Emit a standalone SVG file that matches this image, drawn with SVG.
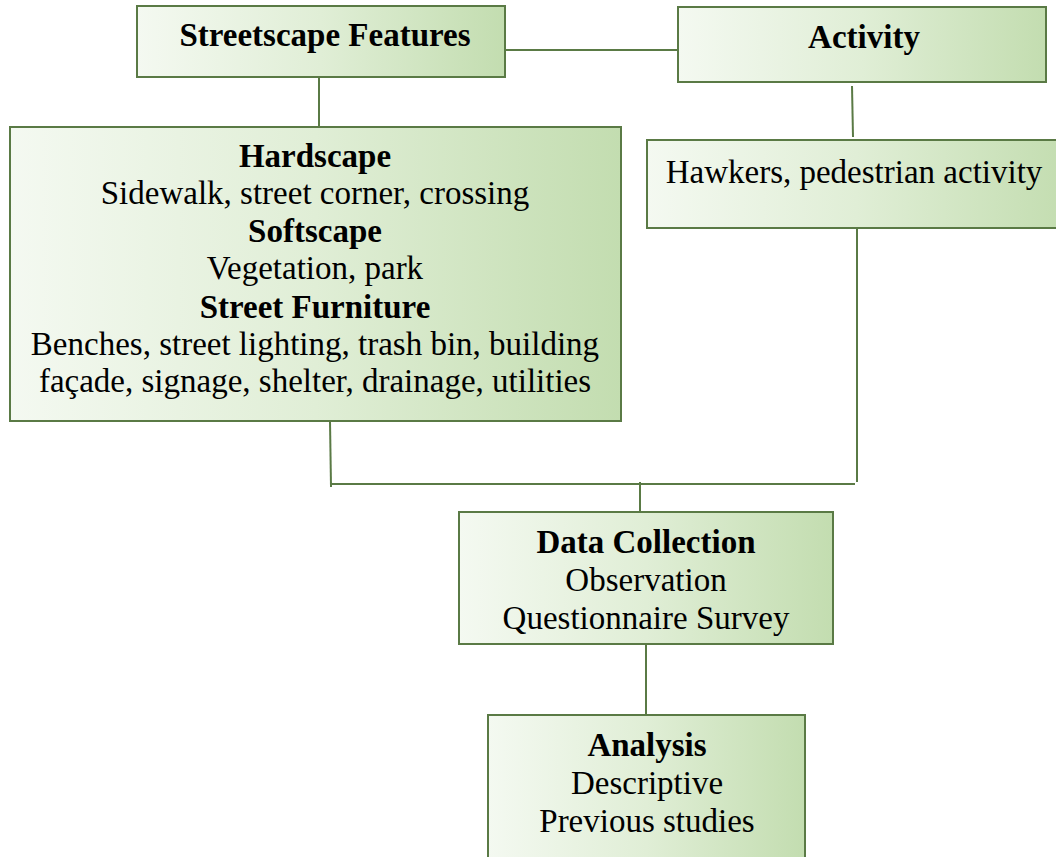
<svg xmlns="http://www.w3.org/2000/svg" width="1056" height="857" viewBox="0 0 1056 857">
<defs>
<linearGradient id="g" x1="0" y1="0" x2="1" y2="0">
<stop offset="0" stop-color="#f4f9f1"/>
<stop offset="0.5" stop-color="#e0eed6"/>
<stop offset="1" stop-color="#c3ddb0"/>
</linearGradient>
</defs>
<style>
rect{fill:url(#g);stroke:#5a7a45;stroke-width:2}
.c line{stroke:#5a7a45;stroke-width:2}
text{font-family:"Liberation Serif","Times New Roman",serif;font-size:33px;fill:#000;text-anchor:middle}
.b{font-weight:bold}
</style>
<rect width="1056" height="857" style="fill:#fff;stroke:none"/>
<g class="c" id="connectors">
<line x1="505" y1="50" x2="678" y2="50"/>
<line x1="319" y1="78" x2="319" y2="127"/>
<line x1="852" y1="86" x2="853" y2="137"/>
<line x1="857" y1="229" x2="857" y2="482"/>
<line x1="330" y1="421" x2="331" y2="487"/>
<line x1="330" y1="484" x2="855" y2="484"/>
<line x1="640" y1="482" x2="640" y2="512"/>
<line x1="646" y1="644" x2="646" y2="715"/>
</g>
<g id="streetscape">
<rect x="137" y="6" width="368" height="71"/>
<text x="325" y="46" class="b">Streetscape Features</text>
</g>
<g id="activity">
<rect x="678" y="7" width="368" height="75"/>
<text x="864" y="48" class="b">Activity</text>
</g>
<g id="hardscape">
<rect x="10" y="127" width="611" height="294"/>
<text x="315" y="167" class="b">Hardscape</text>
<text x="315" y="204">Sidewalk, street corner, crossing</text>
<text x="315" y="242" class="b">Softscape</text>
<text x="315" y="279">Vegetation, park</text>
<text x="315" y="318" class="b">Street Furniture</text>
<text x="315" y="355">Benches, street lighting, trash bin, building</text>
<text x="315" y="392">façade, signage, shelter, drainage, utilities</text>
</g>
<g id="hawkers">
<rect x="647" y="140" width="420" height="88"/>
<text x="854" y="183">Hawkers, pedestrian activity</text>
</g>
<g id="datacollection">
<rect x="459" y="512" width="374" height="132"/>
<text x="646" y="553" class="b">Data Collection</text>
<text x="646" y="591">Observation</text>
<text x="646" y="629">Questionnaire Survey</text>
</g>
<g id="analysis">
<rect x="488" y="715" width="317" height="160"/>
<text x="647" y="756" class="b">Analysis</text>
<text x="647" y="794">Descriptive</text>
<text x="647" y="832">Previous studies</text>
</g>
</svg>
